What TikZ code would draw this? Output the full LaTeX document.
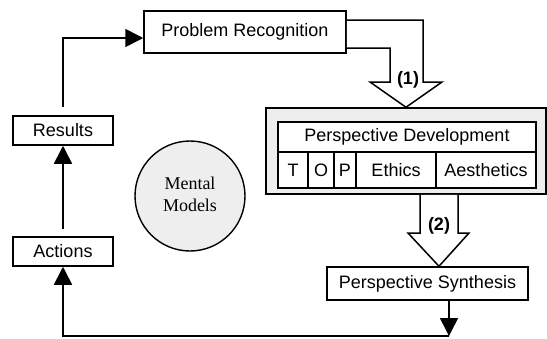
\documentclass[tikz,border=0pt]{standalone}
\usepackage{fontspec}
\setmainfont{Liberation Sans}
\newfontfamily\serifont{Liberation Serif}
\usepackage{xcolor}
\usepackage{tikz}
\usetikzlibrary{shapes.geometric, arrows.meta}
\definecolor{lgray}{HTML}{EEEEEE}
\tikzstyle{box} = [rectangle, 
draw=black, 
line width=1.5pt,
text centered, 
inner sep=0pt,
fill=white]
\tikzstyle{panel} = [rectangle, 
draw=black, 
line width=1.5pt,
minimum width=280pt, 
minimum height=86pt,
fill=lgray]
\tikzstyle{cell} = [rectangle, 
draw=black, 
line width=2pt,
inner sep=0pt,
text centered, 
fill=white]
\tikzstyle{model} = [circle, 
draw=black, 
line width=1.4pt,
minimum size=110pt,
inner sep=0pt,
font=\serifont\fontsize{18}{22}\selectfont,
fill=lgray]
\tikzstyle{hollow} = [draw=black, line width=1.5pt, fill=white, line join=miter]
\tikzstyle{arrow} = [line width=1.6pt,-{Triangle[length=18pt,width=18pt]}]
\tikzstyle{tag} = [font=\bfseries\fontsize{18}{22}\selectfont, inner sep=0pt]

\begin{document}
\begin{tikzpicture}[x=1pt, y=-1pt, font=\fontsize{18}{22}\selectfont]
\useasboundingbox (0,0) rectangle (547,338);
\node (prob) [box, minimum width=202pt, minimum height=42pt] at (245,32) {Problem Recognition};
\node (results) [box, minimum width=100pt, minimum height=29pt] at (63,130.5) {Results};
\node (actions) [box, minimum width=100pt, minimum height=29pt] at (63,251.5) {Actions};
\node (mental) [model] at (190,196) {\raisebox{12pt}{\begin{tabular}{@{}c@{}}Mental\\Models\end{tabular}}};
\node (persp) [panel] at (406,151) {};
\node (dev) [cell, minimum width=258pt, minimum height=30pt] at (407,137) {Perspective Development};
\node (t) [cell, minimum width=30pt, minimum height=36pt] at (293,170) {T};
\node (o) [cell, minimum width=26pt, minimum height=36pt] at (321,170) {O};
\node (p) [cell, minimum width=22pt, minimum height=36pt] at (345,170) {P};
\node (ethics) [cell, minimum width=80pt, minimum height=36pt] at (396,170) {Ethics};
\node (aesth) [cell, minimum width=100pt, minimum height=36pt] at (486,170) {Aesthetics};
\node (synth) [box, minimum width=201pt, minimum height=33pt] at (427.5,283.5) {Perspective Synthesis};
\coordinate (corner) at (449,336);

% big hollow arrows
\draw [hollow] ([yshift=12pt]prob.east) -- (423,20) -- (423,82) -- (442,82) -- (persp.north)
  -- (370,82) -- (390,82) -- (390,48) -- ([yshift=-16pt]prob.east);
\draw [hollow] ([xshift=14pt]persp.south) -- (420,233) -- (408,233) -- ([xshift=11.5pt]synth.north)
  -- (469,233) -- (458,233) -- ([xshift=52pt]persp.south);
\node (one) [tag] at (408,80) {(1)};
\node (two) [tag] at (439,226) {(2)};

\draw [arrow] ([yshift=8pt]results.north) |- ([yshift=-6pt]prob.west);
\draw [arrow] ([yshift=7pt]actions.north) -- (results.south);
\draw [arrow] (synth.south -| corner) -- (corner);
\draw [arrow] (corner) -| (actions.south);

\end{tikzpicture}
\end{document}
